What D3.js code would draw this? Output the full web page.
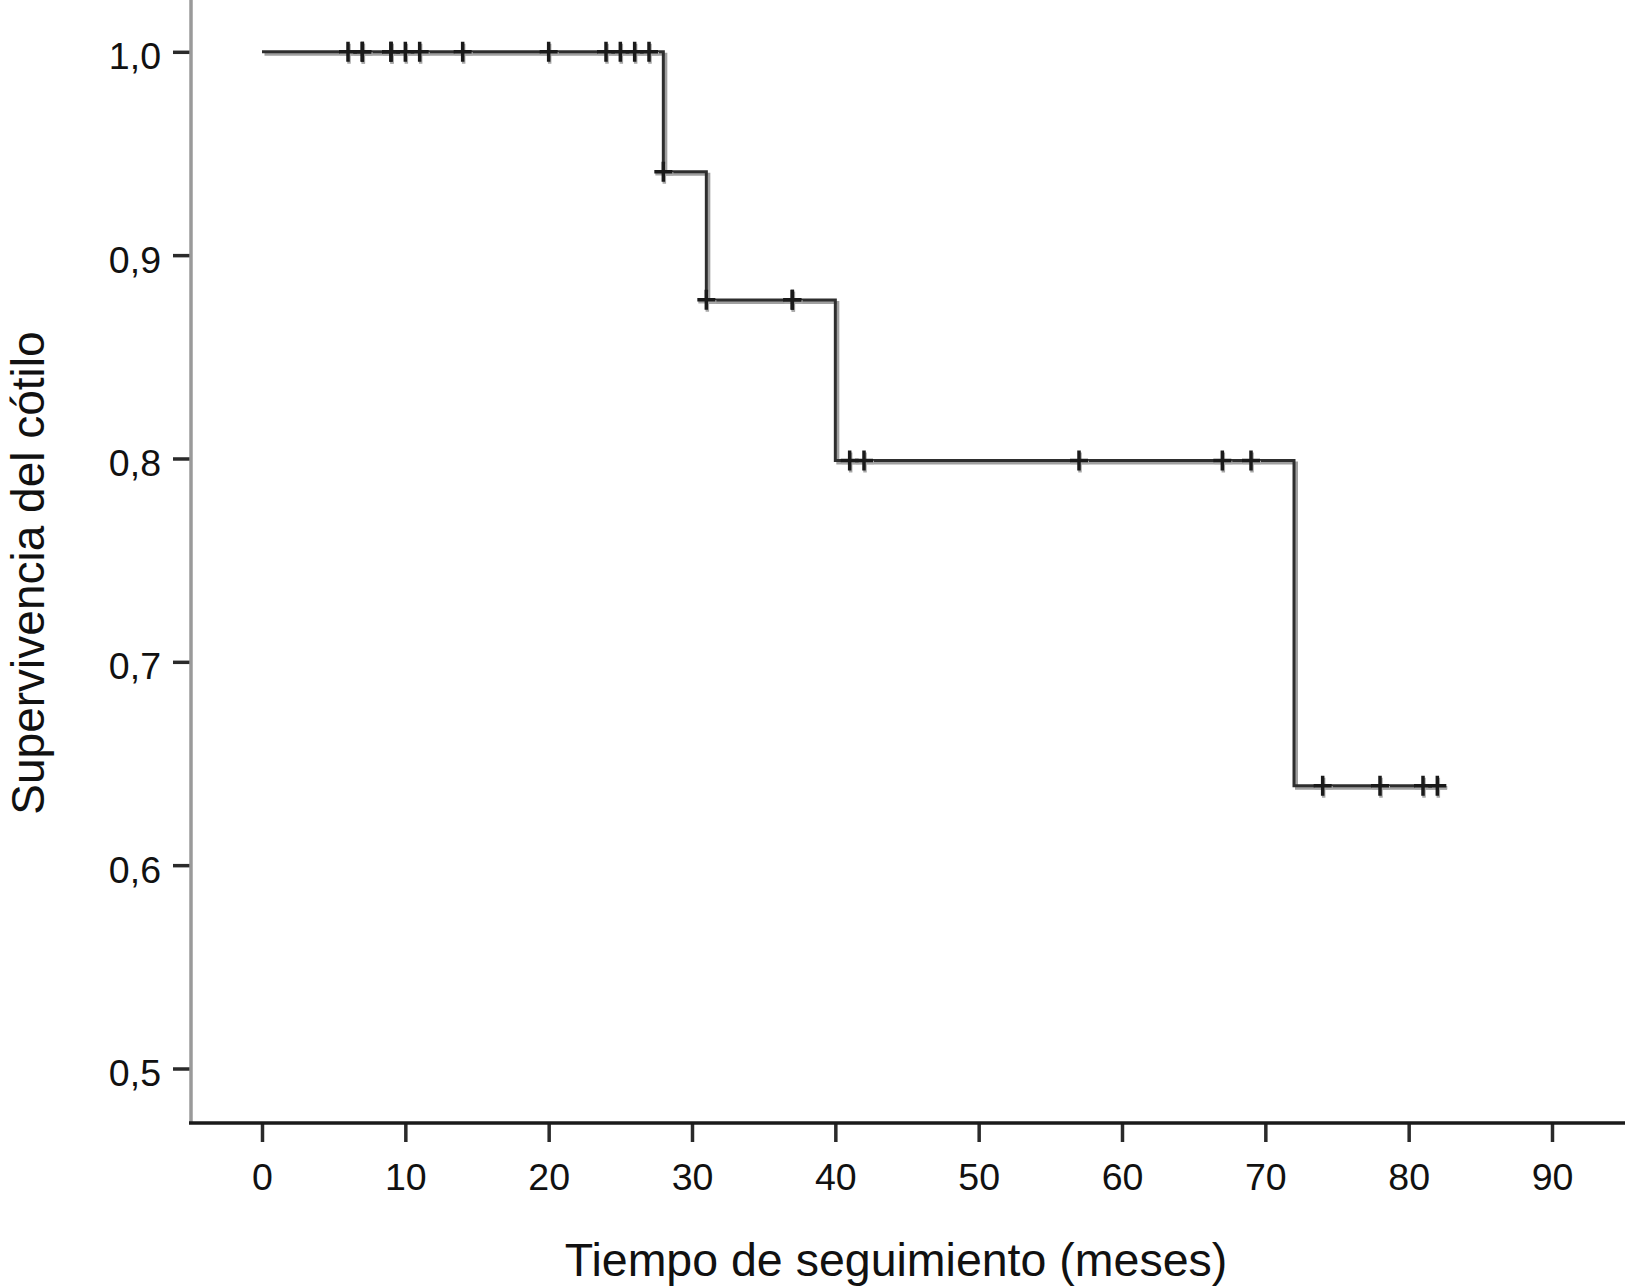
<!DOCTYPE html>
<html>
<head>
<meta charset="utf-8">
<script src="https://cdn.jsdelivr.net/npm/d3@7"></script>
<style>
  html, body { margin: 0; padding: 0; background: #fff; }
  svg { display: block; }
  text { font-family: "Liberation Sans", Arial, Helvetica, sans-serif; fill: #111; }
</style>
</head>
<body>
<svg id="chart" width="1625" height="1286"></svg>
<script>
// ---- data ----
const stepTimes = [0, 28, 31, 40, 72];
const stepSurvival = [1.0, 0.941, 0.878, 0.799, 0.639];
const lastFollowUp = 82.5;
const censorTimes = [6, 7, 7, 9, 9, 10, 11, 14, 20, 24, 25, 26, 27, 28, 31, 37, 37, 41, 42, 57, 67, 69, 74, 78, 81, 82];
const xTicks = [0, 10, 20, 30, 40, 50, 60, 70, 80, 90];
const yTicks = [0.5, 0.6, 0.7, 0.8, 0.9, 1.0];
const xTitle = "Tiempo de seguimiento (meses)";
const yTitle = "Supervivencia del cótilo";

// ---- layout ----
const svg = d3.select("#chart");
const x = d3.scaleLinear().domain([0, 90]).range([262, 1552]);
const y = d3.scaleLinear().domain([0.5, 1.0]).range([1068.5, 51.8]);
const axisY = 1123;   // pixel row of the x axis line
const axisX = 191;    // pixel column of the y axis line

function survivalAt(t) {
  let s = stepSurvival[0];
  for (let i = 0; i < stepTimes.length; i++) if (stepTimes[i] <= t) s = stepSurvival[i];
  return s;
}

// ---- axes ----
const yAxis = d3.axisLeft(y).tickValues(yTicks).tickSize(18).tickPadding(12)
  .tickFormat(d => d3.format(".1f")(d).replace(".", ","));
const gy = svg.append("g").attr("transform", `translate(${axisX},0)`).call(yAxis);
gy.select(".domain").remove();
gy.selectAll(".tick line").attr("stroke", "#2a2a2a").attr("stroke-width", 3.5).attr("x2", -18).attr("x1", -1);
gy.selectAll(".tick text").attr("font-size", 37.5).attr("dy", "0.45em").attr("fill", "#111");

const xAxis = d3.axisBottom(x).tickValues(xTicks).tickSize(19).tickFormat(d3.format("d"));
const gx = svg.append("g").attr("transform", `translate(0,${axisY})`).call(xAxis);
gx.select(".domain").remove();
gx.selectAll(".tick line").attr("stroke", "#2a2a2a").attr("stroke-width", 3.5);
gx.selectAll(".tick text").attr("font-size", 37.5).attr("y", 67).attr("dy", 0).attr("fill", "#111");

// axis lines
svg.append("line").attr("x1", axisX).attr("x2", axisX).attr("y1", 0).attr("y2", axisY + 1)
  .attr("stroke", "#9a9a9a").attr("stroke-width", 3.5);
svg.append("line").attr("x1", axisX - 2).attr("x2", 1625).attr("y1", axisY).attr("y2", axisY)
  .attr("stroke", "#1a1a1a").attr("stroke-width", 3.5);

// ---- survival step curve ----
const pts = stepTimes.map((t, i) => [t, stepSurvival[i]]);
pts.push([lastFollowUp, stepSurvival[stepSurvival.length - 1]]);
const line = d3.line().x(d => x(d[0])).y(d => y(d[1])).curve(d3.curveStepAfter);

svg.append("path").attr("d", line(pts)).attr("fill", "none")
  .attr("stroke", "#a0a0a0").attr("stroke-width", 3).attr("transform", "translate(2.5,2.5)");
svg.append("path").attr("d", line(pts)).attr("fill", "none")
  .attr("stroke", "#2e2e2e").attr("stroke-width", 3);

// ---- censor marks ----
const cross = "M-9,0H9M0,-10V10";
svg.append("g").selectAll("path.shadow").data(censorTimes).join("path")
  .attr("d", cross).attr("fill", "none").attr("stroke", "#a8a8a8").attr("stroke-width", 3.5)
  .attr("transform", d => `translate(${x(d) + 1},${y(survivalAt(d)) + 2})`);
svg.append("g").selectAll("path.mark").data(censorTimes).join("path")
  .attr("d", cross).attr("fill", "none").attr("stroke", "#1a1a1a").attr("stroke-width", 3.5)
  .attr("transform", d => `translate(${x(d)},${y(survivalAt(d))})`);

// ---- titles ----
svg.append("text").attr("x", 896).attr("y", 1276).attr("text-anchor", "middle")
  .attr("font-size", 46.5).text(xTitle);
svg.append("text").attr("transform", "translate(44,573) rotate(-90)").attr("text-anchor", "middle")
  .attr("font-size", 46).text(yTitle);
</script>
</body>
</html>
